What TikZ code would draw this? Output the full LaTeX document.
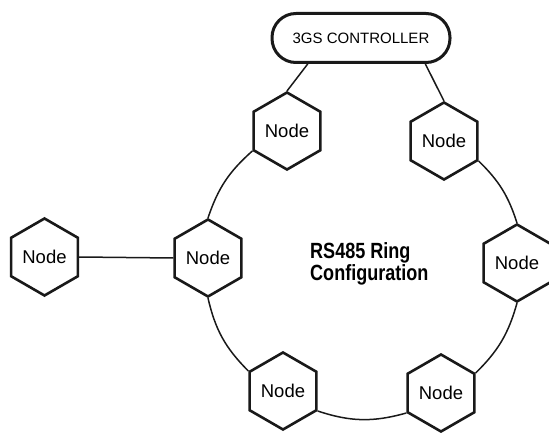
\documentclass[tikz,border=0pt]{standalone}
\usepackage{fontspec}
\setmainfont{Liberation Sans}
\newfontfamily\condfont[FakeStretch=0.82]{Liberation Sans}
\usetikzlibrary{shapes.geometric}
\tikzset{
  hexnode/.style={regular polygon, regular polygon sides=6, shape border rotate=30,
    minimum size=77pt, inner sep=0pt, draw=black!90, line width=2.6pt,
    font=\fontsize{18.5}{20}\selectfont},
  ctrlbox/.style={rectangle, rounded corners=24pt, minimum width=178pt, minimum height=49pt,
    draw=black!90, line width=3pt, inner sep=0pt, font=\fontsize{15}{17}\selectfont},
  wire/.style={draw=black!90, line width=1.5pt},
}
\begin{document}
\begin{tikzpicture}[x=1pt,y=1pt]
\useasboundingbox (0,0) rectangle (549,432);
\node[ctrlbox] (ctrl) at (361,394) {3GS CONTROLLER};
\node[hexnode] (tl) at (287,301) {Node};
\node[hexnode] (tr) at (444,291) {Node};
\node[hexnode] (ml) at (208,174) {Node};
\node[hexnode] (r)  at (517,169) {Node};
\node[hexnode] (bl) at (283,41) {Node};
\node[hexnode] (br) at (441,39) {Node};
\node[hexnode] (lf) at (44.5,175) {Node};
\node[anchor=north west, align=left, inner sep=0pt,
  font=\condfont\bfseries\fontsize{22}{22}\selectfont] (title) at (310,190)
  {RS485 Ring\\Configuration};
% controller links
\draw[wire] (ctrl.206) -- (tl.90);
\draw[wire] (ctrl.338) -- (tr.90);
% ring
\draw[wire] (tl.210) to[bend right=15] (ml.90);
\draw[wire] (ml.270) to[bend right=16] (bl.150);
\draw[wire] (bl.330) to[bend right=17] (br.210);
\draw[wire] (br.30) to[bend right=15] (r.270);
\draw[wire] (r.90) to[bend right=14] (tr.330);
% branch
\draw[wire] (lf.0) -- (ml.180);
\end{tikzpicture}
\end{document}
